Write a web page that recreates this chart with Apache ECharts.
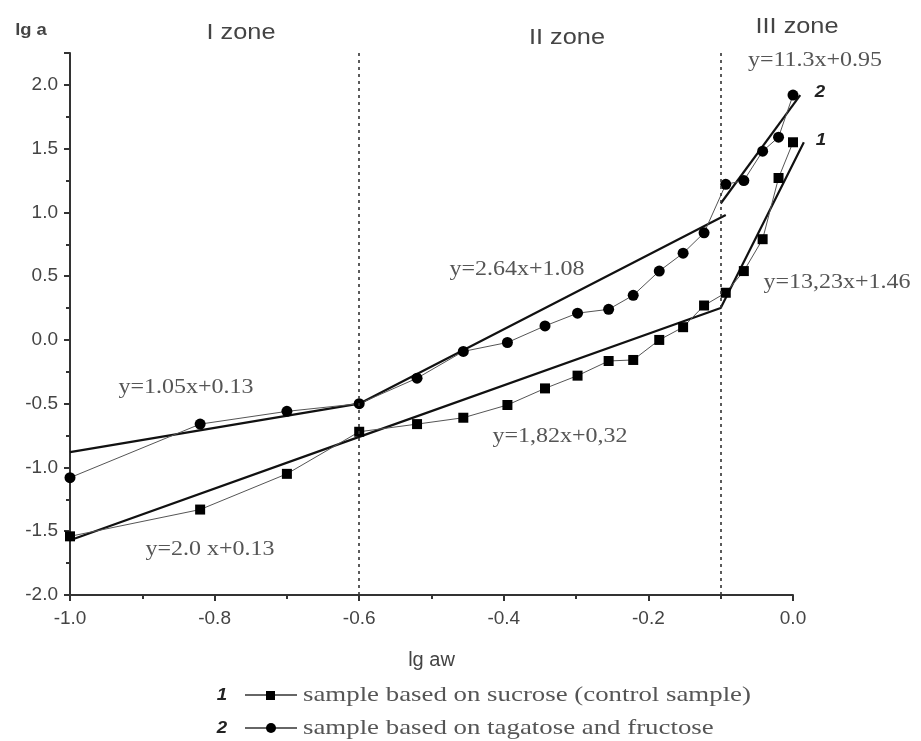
<!DOCTYPE html>
<html>
<head>
<meta charset="utf-8">
<script src="https://cdn.jsdelivr.net/npm/echarts@6/dist/echarts.min.js"></script>
<style>
  html, body { margin: 0; padding: 0; background: #fff; }
  #chart { width: 921px; height: 741px; }
</style>
</head>
<body>
<div id="chart"></div>
<script>
// lg aw values (x)
var lgAw = [-1.0, -0.82, -0.70, -0.60, -0.52, -0.456, -0.395, -0.343, -0.298, -0.255,
            -0.221, -0.185, -0.152, -0.123, -0.093, -0.068, -0.042, -0.020, 0.0];
// 1 - sucrose (squares)
var lgA1 = [-1.54, -1.33, -1.05, -0.72, -0.66, -0.61, -0.51, -0.38, -0.28, -0.165,
            -0.157, 0.0, 0.10, 0.27, 0.37, 0.54, 0.79, 1.27, 1.55];
// 2 - tagatose and fructose (circles)
var lgA2 = [-1.08, -0.66, -0.56, -0.50, -0.30, -0.09, -0.02, 0.11, 0.21, 0.24,
            0.35, 0.54, 0.68, 0.84, 1.22, 1.25, 1.48, 1.59, 1.92];

// straight fitted segments (the last ones run a little past 0.0)
var fit1 = [[-1.0, -1.57], [-0.6, -0.76], [-0.1, 0.25], [0.015, 1.55]];
var fit2a = [[-1.0, -0.88], [-0.6, -0.50], [-0.093, 0.98]];
var fit2b = [[-0.1, 1.07], [0.01, 1.92]];

var zoneBounds = [-0.6, -0.1];

var legendNames = ['sample based on sucrose (control sample)', 'sample based on tagatose and fructose'];

function pairs(xs, ys) {
    var out = [];
    for (var i = 0; i < xs.length; i++) {
        out.push([xs[i], ys[i]]);
    }
    return out;
}

var chart = echarts.init(document.getElementById('chart'));

var serif = '"Liberation Serif", "DejaVu Serif", serif';
var sans = '"Liberation Sans", Arial, sans-serif';

// plot box
var gLeft = 70, gRight = 128, gTop = 53, gBottom = 146;
var plotW = 921 - gLeft - gRight;
// second (hidden) x range so the fit lines may pass 0.0 on the same scale
var xMax2 = 0.02;

function label(txt, x, y, size, opts) {
    opts = opts || {};
    return {
        type: 'text',
        x: x, y: y,
        scaleX: opts.scaleX || 1.2,
        silent: true,
        style: {
            text: txt,
            x: 0, y: 0,
            fill: opts.color || '#555',
            font: (opts.weight || 'normal') + ' ' + size + 'px ' + (opts.family || serif),
            textAlign: opts.align || 'center',
            align: opts.align || 'center',
            textVerticalAlign: 'middle',
            verticalAlign: 'middle'
        }
    };
}

function fitSeries(data) {
    return {
        type: 'line',
        xAxisIndex: 1,
        yAxisIndex: 1,
        data: data,
        symbol: 'none',
        silent: true,
        lineStyle: { color: '#111', width: 2.2 },
        z: 3
    };
}

var tickStyle = { color: '#333', width: 2 };

var option = {
    animation: false,
    backgroundColor: '#fff',
    grid: [
        { left: gLeft, right: gRight, top: gTop, bottom: gBottom },
        { left: gLeft, right: gRight - xMax2 * plotW, top: gTop, bottom: gBottom }
    ],
    xAxis: [{
        type: 'value',
        gridIndex: 0,
        min: -1.0,
        max: 0.0,
        interval: 0.2,
        name: 'lg aw',
        nameLocation: 'middle',
        nameGap: 55,
        nameTextStyle: { fontFamily: sans, fontSize: 20, color: '#444' },
        splitLine: { show: false },
        axisLine: { onZero: false, lineStyle: tickStyle },
        axisTick: { length: 6, lineStyle: tickStyle },
        minorTick: { show: true, splitNumber: 2, length: 4, lineStyle: tickStyle },
        axisLabel: {
            margin: 14,
            fontFamily: sans, fontSize: 19, color: '#444',
            formatter: function (v) { return v.toFixed(1); }
        }
    }, {
        type: 'value',
        gridIndex: 1,
        min: -1.0,
        max: xMax2,
        show: false
    }],
    yAxis: [{
        type: 'value',
        gridIndex: 0,
        min: -2.0,
        max: 2.25,
        interval: 0.5,
        splitLine: { show: false },
        axisLine: { onZero: false, lineStyle: tickStyle },
        axisTick: { length: 6, lineStyle: tickStyle },
        minorTick: { show: true, splitNumber: 2, length: 4, lineStyle: tickStyle },
        axisLabel: {
            margin: 12,
            fontFamily: sans, fontSize: 19, color: '#444',
            formatter: function (v) {
                if (Math.abs(v * 2 - Math.round(v * 2)) > 1e-6) return '';
                return v.toFixed(1);
            }
        }
    }, {
        type: 'value',
        gridIndex: 1,
        min: -2.0,
        max: 2.25,
        show: false
    }],
    series: [
        {
            name: legendNames[0],
            type: 'line',
            data: pairs(lgAw, lgA1),
            symbol: 'rect',
            symbolSize: 10,
            itemStyle: { color: '#000' },
            lineStyle: { color: '#555', width: 1 },
            z: 4,
            markLine: {
                silent: true,
                symbol: 'none',
                label: { show: false },
                lineStyle: { color: '#333', width: 1.6, type: [3, 4] },
                data: zoneBounds.map(function (b) { return { xAxis: b }; })
            }
        },
        {
            name: legendNames[1],
            type: 'line',
            data: pairs(lgAw, lgA2),
            symbol: 'circle',
            symbolSize: 11,
            itemStyle: { color: '#000' },
            lineStyle: { color: '#555', width: 1 },
            z: 4
        },
        fitSeries(fit1),
        fitSeries(fit2a),
        fitSeries(fit2b)
    ],
    graphic: [
        label('lg a', 31, 31, 16, { family: sans, weight: 'bold', color: '#444', scaleX: 1.15 }),
        label('I zone', 241, 33, 22, { family: sans, color: '#444', scaleX: 1.15 }),
        label('II zone', 567, 38, 22, { family: sans, color: '#444', scaleX: 1.15 }),
        label('III zone', 797, 27, 22, { family: sans, color: '#444', scaleX: 1.15 }),
        label('y=11.3x+0.95', 815, 61, 20),
        label('2', 820, 92, 17, { family: sans, weight: 'italic bold', color: '#222', scaleX: 1.1 }),
        label('1', 821, 140, 17, { family: sans, weight: 'italic bold', color: '#222', scaleX: 1.1 }),
        label('y=2.64x+1.08', 517, 270, 20),
        label('y=13,23x+1.46', 837, 283, 20),
        label('y=1.05x+0.13', 186, 388, 20),
        label('y=1,82x+0,32', 560, 437, 20),
        label('y=2.0 x+0.13', 210, 550, 20),

        // key under the plot
        label('1', 222, 695, 17, { family: sans, weight: 'italic bold', color: '#222', scaleX: 1.1 }),
        { type: 'line', silent: true, shape: { x1: 245, y1: 695, x2: 297, y2: 695 }, style: { stroke: '#666', lineWidth: 2 } },
        { type: 'rect', silent: true, shape: { x: 266, y: 691, width: 9, height: 9 }, style: { fill: '#000' } },
        label(legendNames[0], 303, 695, 22, { align: 'left', scaleX: 1.22 }),
        label('2', 222, 728, 17, { family: sans, weight: 'italic bold', color: '#222', scaleX: 1.1 }),
        { type: 'line', silent: true, shape: { x1: 245, y1: 728, x2: 297, y2: 728 }, style: { stroke: '#666', lineWidth: 2 } },
        { type: 'circle', silent: true, shape: { cx: 271, cy: 728, r: 5 }, style: { fill: '#000' } },
        label(legendNames[1], 303, 728, 22, { align: 'left', scaleX: 1.22 })
    ]
};

chart.setOption(option);
</script>
</body>
</html>
